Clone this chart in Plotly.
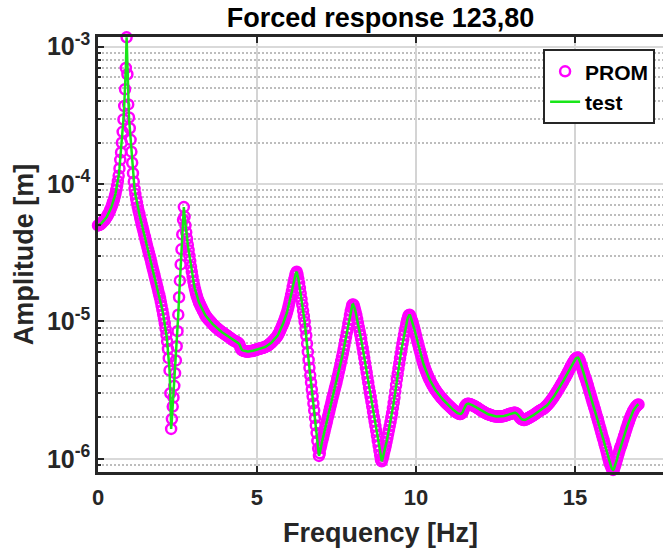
import plotly.graph_objects as go

# Frequency sampling of the response (uniform grid, Hz)
FREQ_START = 0.0
FREQ_STEP = 0.025

# Response amplitude [m], one value per frequency sample (0.000 ... 17.000 Hz),
# 20 samples (0.5 Hz) per row
amplitude = [
    5.0e-5, 5.02e-5, 5.05e-5, 5.1e-5, 5.15e-5, 5.22e-5, 5.3e-5, 5.37e-5, 5.45e-5, 5.55e-5,
    5.65e-5, 5.77e-5, 5.9e-5, 6.05e-5, 6.2e-5, 6.4e-5, 6.6e-5, 6.85e-5, 7.1e-5, 7.4e-5,
    7.7e-5, 8.1e-5, 8.5e-5, 9.05e-5, 9.7e-5, 1.05e-4, 1.15e-4, 1.3e-4, 1.5e-4, 1.7e-4,
    2.0e-4, 2.4e-4, 2.95e-4, 3.7e-4, 4.9e-4, 7.0e-4, 1.17e-3, 6.3e-4, 3.8e-4, 3.05e-4,
    2.55e-4, 2.1e-4, 1.72e-4, 1.43e-4, 1.2e-4, 1.04e-4, 9.2e-5, 8.45e-5, 7.8e-5, 7.3e-5,
    6.8e-5, 6.4e-5, 6.05e-5, 5.7e-5, 5.4e-5, 5.1e-5, 4.85e-5, 4.6e-5, 4.35e-5, 4.12e-5,
    3.9e-5, 3.7e-5, 3.5e-5, 3.32e-5, 3.15e-5, 3.0e-5, 2.85e-5, 2.7e-5, 2.55e-5, 2.42e-5,
    2.3e-5, 2.17e-5, 2.05e-5, 1.95e-5, 1.85e-5, 1.75e-5, 1.65e-5, 1.56e-5, 1.48e-5, 1.39e-5,
    1.3e-5, 1.21e-5, 1.13e-5, 1.05e-5, 9.7e-6, 8.85e-6, 8.0e-6, 7.15e-6, 6.3e-6, 5.4e-6,
    4.4e-6, 3.0e-6, 1.65e-6, 1.95e-6, 2.4e-6, 2.8e-6, 3.4e-6, 4.2e-6, 5.2e-6, 6.6e-6,
    8.5e-6, 1.12e-5, 1.5e-5, 1.98e-5, 2.6e-5, 3.35e-5, 4.3e-5, 5.5e-5, 6.8e-5, 5.8e-5,
    5.0e-5, 4.45e-5, 4.0e-5, 3.62e-5, 3.3e-5, 3.0e-5, 2.75e-5, 2.5e-5, 2.3e-5, 2.12e-5,
    1.95e-5, 1.83e-5, 1.72e-5, 1.63e-5, 1.55e-5, 1.49e-5, 1.43e-5, 1.38e-5, 1.34e-5, 1.3e-5,
    1.27e-5, 1.23e-5, 1.2e-5, 1.17e-5, 1.14e-5, 1.11e-5, 1.09e-5, 1.07e-5, 1.05e-5, 1.035e-5,
    1.02e-5, 1.005e-5, 9.9e-6, 9.75e-6, 9.6e-6, 9.47e-6, 9.35e-6, 9.22e-6, 9.1e-6, 9.0e-6,
    8.9e-6, 8.8e-6, 8.7e-6, 8.6e-6, 8.5e-6, 8.42e-6, 8.35e-6, 8.27e-6, 8.2e-6, 8.12e-6,
    8.05e-6, 7.97e-6, 7.9e-6, 7.82e-6, 7.75e-6, 7.67e-6, 7.6e-6, 7.52e-6, 7.45e-6, 7.37e-6,
    7.3e-6, 7.25e-6, 7.2e-6, 7.15e-6, 7.1e-6, 7.05e-6, 7.0e-6, 6.92e-6, 6.8e-6, 6.5e-6,
    6.3e-6, 6.2e-6, 6.15e-6, 6.12e-6, 6.1e-6, 6.07e-6, 6.05e-6, 6.05e-6, 6.05e-6, 6.05e-6,
    6.05e-6, 6.07e-6, 6.1e-6, 6.1e-6, 6.1e-6, 6.12e-6, 6.15e-6, 6.17e-6, 6.2e-6, 6.22e-6,
    6.25e-6, 6.27e-6, 6.3e-6, 6.32e-6, 6.35e-6, 6.37e-6, 6.4e-6, 6.42e-6, 6.45e-6, 6.47e-6,
    6.5e-6, 6.55e-6, 6.6e-6, 6.65e-6, 6.7e-6, 6.77e-6, 6.85e-6, 6.92e-6, 7.0e-6, 7.1e-6,
    7.2e-6, 7.3e-6, 7.4e-6, 7.5e-6, 7.6e-6, 7.75e-6, 7.9e-6, 8.1e-6, 8.3e-6, 8.55e-6,
    8.8e-6, 9.1e-6, 9.4e-6, 9.7e-6, 1.0e-5, 1.04e-5, 1.08e-5, 1.13e-5, 1.18e-5, 1.24e-5,
    1.31e-5, 1.39e-5, 1.47e-5, 1.56e-5, 1.66e-5, 1.78e-5, 1.9e-5, 2.03e-5, 2.15e-5, 2.25e-5,
    2.3e-5, 2.2e-5, 2.05e-5, 1.9e-5, 1.75e-5, 1.6e-5, 1.45e-5, 1.32e-5, 1.2e-5, 1.09e-5,
    9.9e-6, 8.85e-6, 7.9e-6, 6.9e-6, 6.0e-6, 5.25e-6, 4.6e-6, 4.05e-6, 3.6e-6, 3.2e-6,
    2.85e-6, 2.53e-6, 2.25e-6, 1.98e-6, 1.75e-6, 1.54e-6, 1.35e-6, 1.19e-6, 1.05e-6, 1.1e-6,
    1.2e-6, 1.27e-6, 1.35e-6, 1.42e-6, 1.5e-6, 1.59e-6, 1.68e-6, 1.78e-6, 1.88e-6, 1.99e-6,
    2.1e-6, 2.22e-6, 2.35e-6, 2.48e-6, 2.62e-6, 2.77e-6, 2.92e-6, 3.08e-6, 3.25e-6, 3.42e-6,
    3.6e-6, 3.82e-6, 4.05e-6, 4.3e-6, 4.55e-6, 4.85e-6, 5.15e-6, 5.5e-6, 5.85e-6, 6.25e-6,
    6.7e-6, 7.2e-6, 7.7e-6, 8.3e-6, 8.9e-6, 9.6e-6, 1.03e-5, 1.11e-5, 1.19e-5, 1.26e-5,
    1.32e-5, 1.33e-5, 1.3e-5, 1.24e-5, 1.18e-5, 1.11e-5, 1.04e-5, 9.7e-6, 9.1e-6, 8.55e-6,
    8.0e-6, 7.45e-6, 6.9e-6, 6.4e-6, 5.9e-6, 5.45e-6, 5.0e-6, 4.6e-6, 4.25e-6, 3.9e-6,
    3.6e-6, 3.3e-6, 3.05e-6, 2.82e-6, 2.6e-6, 2.4e-6, 2.2e-6, 2.03e-6, 1.88e-6, 1.73e-6,
    1.6e-6, 1.47e-6, 1.35e-6, 1.25e-6, 1.15e-6, 1.06e-6, 9.8e-7, 9.6e-7, 1.0e-6, 1.05e-6,
    1.12e-6, 1.18e-6, 1.25e-6, 1.33e-6, 1.42e-6, 1.52e-6, 1.62e-6, 1.73e-6, 1.85e-6, 2.0e-6,
    2.15e-6, 2.34e-6, 2.55e-6, 2.8e-6, 3.1e-6, 3.43e-6, 3.8e-6, 4.17e-6, 4.55e-6, 4.95e-6,
    5.4e-6, 5.85e-6, 6.35e-6, 6.85e-6, 7.4e-6, 7.95e-6, 8.5e-6, 9.05e-6, 9.6e-6, 1.02e-5,
    1.07e-5, 1.11e-5, 1.12e-5, 1.09e-5, 1.05e-5, 1.01e-5, 9.7e-6, 9.25e-6, 8.8e-6, 8.35e-6,
    7.9e-6, 7.5e-6, 7.1e-6, 6.75e-6, 6.4e-6, 6.1e-6, 5.8e-6, 5.52e-6, 5.25e-6, 5.02e-6,
    4.8e-6, 4.62e-6, 4.45e-6, 4.3e-6, 4.15e-6, 4.02e-6, 3.9e-6, 3.8e-6, 3.7e-6, 3.6e-6,
    3.5e-6, 3.42e-6, 3.35e-6, 3.27e-6, 3.2e-6, 3.14e-6, 3.08e-6, 3.02e-6, 2.97e-6, 2.92e-6,
    2.87e-6, 2.82e-6, 2.78e-6, 2.74e-6, 2.7e-6, 2.66e-6, 2.62e-6, 2.58e-6, 2.55e-6, 2.51e-6,
    2.48e-6, 2.45e-6, 2.42e-6, 2.39e-6, 2.36e-6, 2.33e-6, 2.3e-6, 2.27e-6, 2.25e-6, 2.22e-6,
    2.2e-6, 2.18e-6, 2.16e-6, 2.14e-6, 2.13e-6, 2.12e-6, 2.12e-6, 2.13e-6, 2.15e-6, 2.2e-6,
    2.28e-6, 2.36e-6, 2.42e-6, 2.47e-6, 2.5e-6, 2.52e-6, 2.52e-6, 2.51e-6, 2.5e-6, 2.48e-6,
    2.47e-6, 2.45e-6, 2.44e-6, 2.42e-6, 2.41e-6, 2.39e-6, 2.37e-6, 2.35e-6, 2.33e-6, 2.31e-6,
    2.29e-6, 2.27e-6, 2.25e-6, 2.23e-6, 2.21e-6, 2.19e-6, 2.18e-6, 2.16e-6, 2.15e-6, 2.13e-6,
    2.12e-6, 2.11e-6, 2.1e-6, 2.09e-6, 2.08e-6, 2.07e-6, 2.06e-6, 2.05e-6, 2.05e-6, 2.04e-6,
    2.04e-6, 2.03e-6, 2.03e-6, 2.03e-6, 2.03e-6, 2.03e-6, 2.03e-6, 2.03e-6, 2.04e-6, 2.04e-6,
    2.05e-6, 2.05e-6, 2.06e-6, 2.07e-6, 2.08e-6, 2.09e-6, 2.1e-6, 2.11e-6, 2.12e-6, 2.13e-6,
    2.14e-6, 2.14e-6, 2.15e-6, 2.16e-6, 2.16e-6, 2.16e-6, 2.15e-6, 2.13e-6, 2.1e-6, 2.06e-6,
    2.02e-6, 1.99e-6, 1.96e-6, 1.94e-6, 1.93e-6, 1.92e-6, 1.92e-6, 1.92e-6, 1.93e-6, 1.94e-6,
    1.96e-6, 1.97e-6, 1.99e-6, 2.0e-6, 2.02e-6, 2.03e-6, 2.05e-6, 2.06e-6, 2.08e-6, 2.1e-6,
    2.12e-6, 2.14e-6, 2.16e-6, 2.18e-6, 2.2e-6, 2.22e-6, 2.24e-6, 2.26e-6, 2.28e-6, 2.29e-6,
    2.3e-6, 2.33e-6, 2.36e-6, 2.39e-6, 2.42e-6, 2.45e-6, 2.49e-6, 2.53e-6, 2.57e-6, 2.61e-6,
    2.66e-6, 2.71e-6, 2.76e-6, 2.81e-6, 2.87e-6, 2.93e-6, 2.99e-6, 3.05e-6, 3.12e-6, 3.19e-6,
    3.26e-6, 3.33e-6, 3.41e-6, 3.49e-6, 3.57e-6, 3.65e-6, 3.74e-6, 3.83e-6, 3.93e-6, 4.03e-6,
    4.13e-6, 4.24e-6, 4.35e-6, 4.46e-6, 4.58e-6, 4.7e-6, 4.82e-6, 4.94e-6, 5.06e-6, 5.17e-6,
    5.28e-6, 5.36e-6, 5.42e-6, 5.46e-6, 5.45e-6, 5.35e-6, 5.2e-6, 5.0e-6, 4.8e-6, 4.6e-6,
    4.4e-6, 4.22e-6, 4.05e-6, 3.9e-6, 3.75e-6, 3.6e-6, 3.45e-6, 3.3e-6, 3.15e-6, 3.01e-6,
    2.88e-6, 2.75e-6, 2.62e-6, 2.51e-6, 2.4e-6, 2.3e-6, 2.2e-6, 2.1e-6, 2.0e-6, 1.91e-6,
    1.82e-6, 1.73e-6, 1.65e-6, 1.57e-6, 1.5e-6, 1.43e-6, 1.37e-6, 1.3e-6, 1.24e-6, 1.18e-6,
    1.12e-6, 1.06e-6, 1.01e-6, 9.6e-7, 9.2e-7, 8.9e-7, 8.6e-7, 8.4e-7, 8.3e-7, 8.4e-7,
    8.7e-7, 9.1e-7, 9.5e-7, 1.0e-6, 1.05e-6, 1.1e-6, 1.15e-6, 1.2e-6, 1.24e-6, 1.29e-6,
    1.35e-6, 1.41e-6, 1.47e-6, 1.53e-6, 1.6e-6, 1.67e-6, 1.74e-6, 1.81e-6, 1.88e-6, 1.95e-6,
    2.02e-6, 2.09e-6, 2.15e-6, 2.21e-6, 2.27e-6, 2.32e-6, 2.37e-6, 2.41e-6, 2.44e-6, 2.47e-6,
    2.49e-6,
]

# Axis ticks
X_TICK_VALUES = [0, 5, 10, 15]
Y_TICK_VALUES = [1e-6, 1e-5, 1e-4, 1e-3]
Y_TICK_LABELS = ["10<sup>-6</sup>", "10<sup>-5</sup>", "10<sup>-4</sup>", "10<sup>-3</sup>"]

X_RANGE = [0, 17.77]
Y_RANGE_LOG = [-6.096, -2.9295]

FONT = "Liberation Sans, Arial, Helvetica, sans-serif"
AXIS_COLOR = "#262626"

fig = go.Figure()

fig.add_trace(go.Scatter(
    y=amplitude, x0=FREQ_START, dx=FREQ_STEP,
    mode="markers", name="PROM",
    marker=dict(symbol="circle-open", size=10, color="#ff00ff",
                line=dict(width=2.5, color="#ff00ff")),
    cliponaxis=False,
))

fig.add_trace(go.Scatter(
    y=amplitude, x0=FREQ_START, dx=FREQ_STEP,
    mode="lines", name="test",
    line=dict(color="#19e619", width=2.5),
))

fig.update_layout(
    width=663, height=554,
    margin=dict(l=98, r=0, t=37, b=82, autoexpand=False),
    paper_bgcolor="white", plot_bgcolor="white",
    font=dict(family=FONT, color=AXIS_COLOR),
    title=dict(
        text="Forced response 123,80",
        x=0.5, xref="paper", xanchor="center",
        y=1 - 18 / 554, yref="container", yanchor="middle",
        font=dict(size=27, weight="bold", color="black", family=FONT),
    ),
    legend=dict(
        x=0.986, xanchor="right", y=0.972, yanchor="top",
        bgcolor="white", bordercolor=AXIS_COLOR, borderwidth=2,
        font=dict(size=21, weight="bold", color="black", family=FONT),
        tracegroupgap=0,
    ),
    showlegend=True,
)

fig.update_xaxes(
    range=X_RANGE, tickmode="array", tickvals=X_TICK_VALUES,
    ticks="inside", ticklen=6, tickwidth=2, tickcolor=AXIS_COLOR,
    showline=True, linecolor=AXIS_COLOR, linewidth=2.5, mirror="ticks",
    showgrid=True, gridcolor="#d4d4d4", gridwidth=1.5, zeroline=False,
    ticklabelstandoff=4,
    tickfont=dict(size=22, weight="bold", color=AXIS_COLOR, family=FONT),
    title=dict(text="Frequency [Hz]", standoff=14,
               font=dict(size=27, weight="bold", color=AXIS_COLOR, family=FONT)),
)

fig.update_yaxes(
    type="log", range=Y_RANGE_LOG, tickmode="array",
    tickvals=Y_TICK_VALUES, ticktext=Y_TICK_LABELS,
    ticks="inside", ticklen=6, tickwidth=2, tickcolor=AXIS_COLOR,
    showline=True, linecolor=AXIS_COLOR, linewidth=2.5, mirror=False,
    showgrid=True, gridcolor="#d9d9d9", gridwidth=1.5, zeroline=False,
    minor=dict(ticks="inside", ticklen=3.5, tickwidth=1.5, tickcolor=AXIS_COLOR,
               dtick="D1", showgrid=True, gridcolor="#bdbdbd",
               griddash="2px,2px", gridwidth=1.5),
    tickfont=dict(size=25, weight="bold", color=AXIS_COLOR, family=FONT),
    title=dict(text="Amplitude [m]", standoff=6,
               font=dict(size=27, weight="bold", color=AXIS_COLOR, family=FONT)),
)

fig.write_html("out.html")
